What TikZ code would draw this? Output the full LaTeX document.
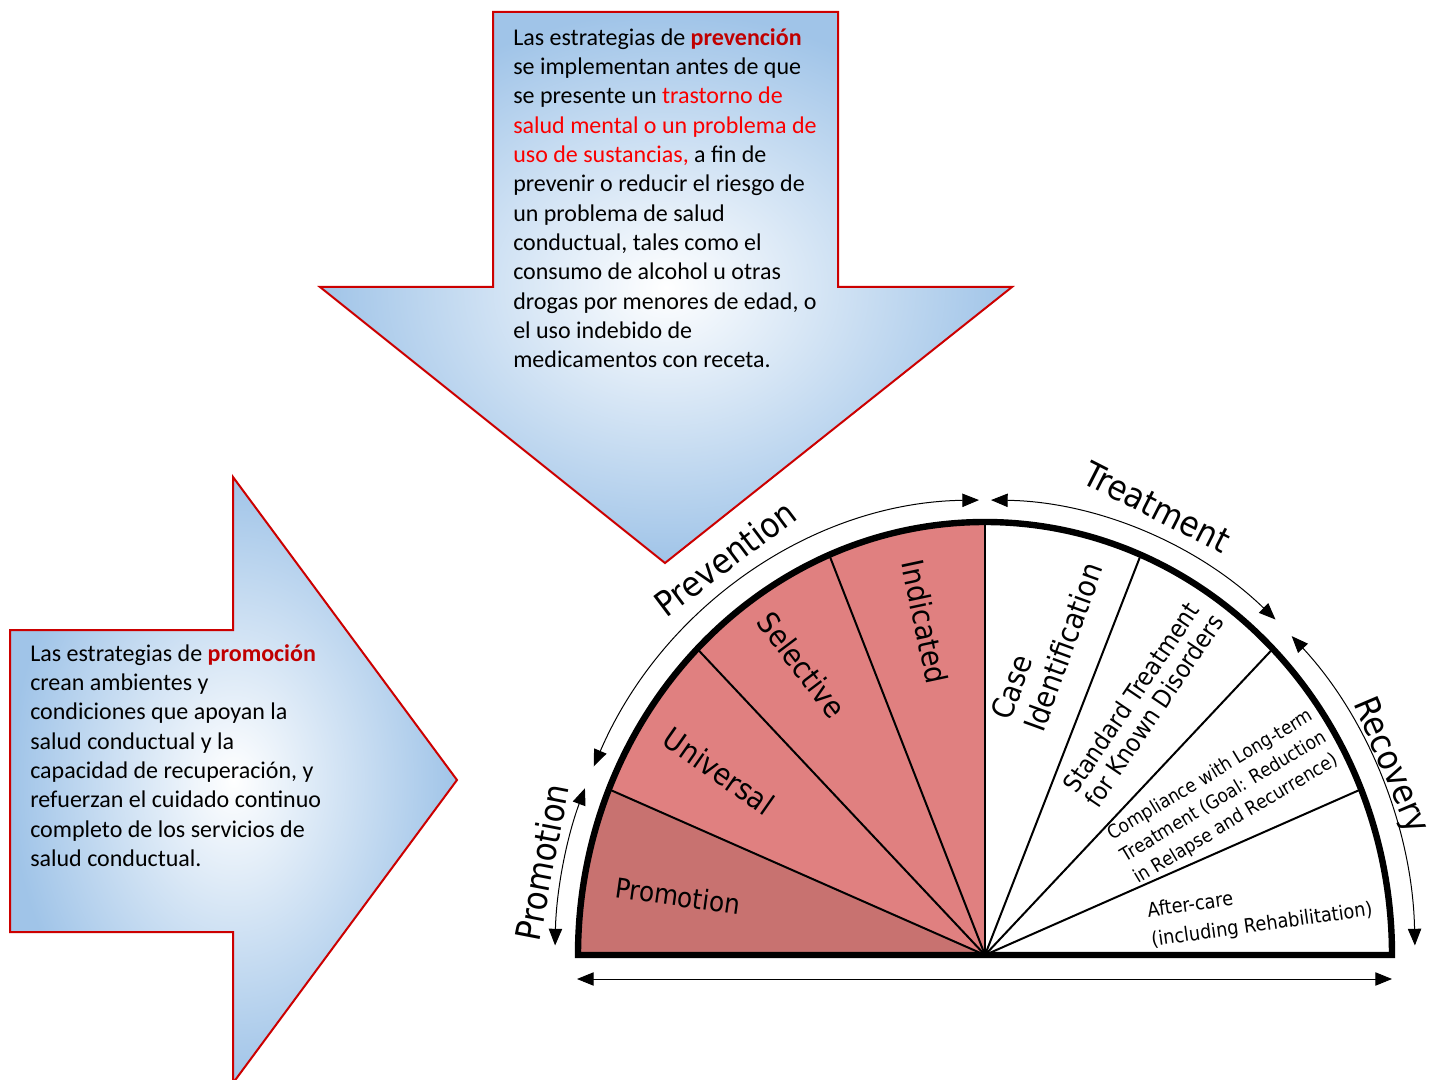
\documentclass[tikz,border=0pt]{standalone}
\usepackage{fontspec}
\setmainfont{Carlito}
\newfontfamily\diag[FakeStretch=0.9]{DejaVu Sans}
\usetikzlibrary{arrows.meta}
\definecolor{promo}{RGB}{200,114,112}
\definecolor{prev}{RGB}{224,128,128}
\definecolor{bluegrad}{RGB}{160,196,232}
\definecolor{bordred}{RGB}{204,0,0}
\definecolor{darkred}{RGB}{192,0,0}
\definecolor{brightred}{RGB}{250,0,0}
\tikzset{
  arrowbox/.style={draw=bordred, line width=1.5pt, shading=radial, inner color=white, outer color=bluegrad},
  txt/.style={inner sep=0, align=left, anchor=north west, font=\fontsize{18pt}{22pt}\selectfont},
  outlab/.style={inner sep=0, font=\diag\fontsize{25.9pt}{30pt}\selectfont},
  biglab/.style={inner sep=0, font=\diag\fontsize{22.5pt}{26pt}\selectfont},
  rim/.style={line width=4.8pt, line join=miter},
  divider/.style={line width=1.5pt},
  spanarrow/.style={line width=0.75pt, {Triangle[length=12.5pt,width=10pt]}-{Triangle[length=12.5pt,width=10pt]}}
}
\begin{document}
\begin{tikzpicture}[x=0.75pt,y=-0.75pt]
\clip (0,0) rectangle (1432,1080);
\fill[white] (0,0) rectangle (1432,1080);

% top (down) arrow
\path[arrowbox] (493,12) -- (838,12) -- (838,287) -- (1012,287) -- (665,563) -- (320,287) -- (493,287) -- cycle;
\node[txt] (prevtext) at (513,28) {Las estrategias de \textcolor{darkred}{\textbf{prevención}}\\
se implementan antes de que\\
se presente un \textcolor{brightred}{trastorno de}\\
\textcolor{brightred}{salud mental o un problema de}\\
\textcolor{brightred}{uso de sustancias,} a fin de\\
prevenir o reducir el riesgo de\\
un problema de salud\\
conductual, tales como el\\
consumo de alcohol u otras\\
drogas por menores de edad, o\\
el uso indebido de\\
medicamentos con receta.};

% left (right-pointing) arrow
\path[arrowbox] (10,630) -- (233,630) -- (233,477) -- (457,780) -- (233,1083) -- (233,932) -- (10,932) -- cycle;
\node[txt] (promtext) at (30,644) {Las estrategias de \textcolor{darkred}{\textbf{promoción}}\\
crean ambientes y\\
condiciones que apoyan la\\
salud conductual y la\\
capacidad de recuperación, y\\
refuerzan el cuidado continuo\\
completo de los servicios de\\
salud conductual.};

% semicircle
\begin{scope}[shift={(985,955)}, yscale=-1]
  \coordinate (O) at (0,0);
  \fill[promo] (0,0) -- (180:407 and 433) arc[start angle=180,end angle=157.5,x radius=407,y radius=433] -- cycle;
  \fill[prev] (0,0) -- (157.5:407 and 433) arc[start angle=157.5,end angle=90,x radius=407,y radius=433] -- cycle;
  \foreach \a in {22.5,45,67.5,90,112.5,135,157.5} \draw[divider] (O) -- (\a:407 and 433);
  \draw[rim] (-407,0) arc[start angle=180,end angle=0,x radius=407,y radius=433] -- cycle;
  \coordinate (pv1) at (155.5:430 and 455);
  \coordinate (pm1) at (158.5:430 and 455);
  \coordinate (tr1) at (89.2:430 and 455);
  \coordinate (rc1) at (44.5:430 and 455);
  \draw[spanarrow] (pv1) arc[start angle=155.5,end angle=90.8,x radius=430,y radius=455];
  \draw[spanarrow] (tr1) arc[start angle=89.2,end angle=47.5,x radius=430,y radius=455];
  \draw[spanarrow] (rc1) arc[start angle=44.5,end angle=1.2,x radius=430,y radius=455];
  \draw[spanarrow] (pm1) arc[start angle=158.5,end angle=178.8,x radius=430,y radius=455];
\end{scope}
\coordinate (bl) at (577,979);
\coordinate (br) at (1392,979);
\draw[spanarrow] (bl) -- (br);

% outer labels
\node[outlab, rotate=37] (prevlab) at (725,558) {Prevention};
\node[outlab, rotate=-27] (treatlab) at (1157,507) {Treatment};
\node[outlab, rotate=-67] (recovlab) at (1390,766) {Recovery};
\node[outlab, rotate=79] (promolab) at (542,862) {Promotion};

% inner labels
\node[inner sep=0, font=\diag\fontsize{20.6pt}{24pt}\selectfont, rotate=-8] (promo) at (678,896) {Promotion};
\node[biglab, rotate=-35] (univ) at (719,771) {Universal};
\node[biglab, rotate=-53] (sel) at (802,665) {Selective};
\node[biglab, rotate=-78] (ind) at (925,622) {Indicated};
\node[biglab, align=left, rotate=70] (case) at (1047,641) {Case\\Identification};
\node[inner sep=0, align=left, font=\diag\fontsize{18.6pt}{20pt}\selectfont, rotate=56] (std) at (1143,703) {Standard Treatment\\for Known Disorders};
\node[inner sep=0, align=left, font=\diag\fontsize{14.2pt}{19pt}\selectfont, rotate=31] (comp) at (1224,797) {Compliance with Long-term\\Treatment (Goal: Reduction\\in Relapse and Recurrence)};
\node[inner sep=0, align=left, font=\diag\fontsize{14.8pt}{22pt}\selectfont, rotate=8] (after) at (1260,911) {After-care\\(including Rehabilitation)};
\end{tikzpicture}
\end{document}
